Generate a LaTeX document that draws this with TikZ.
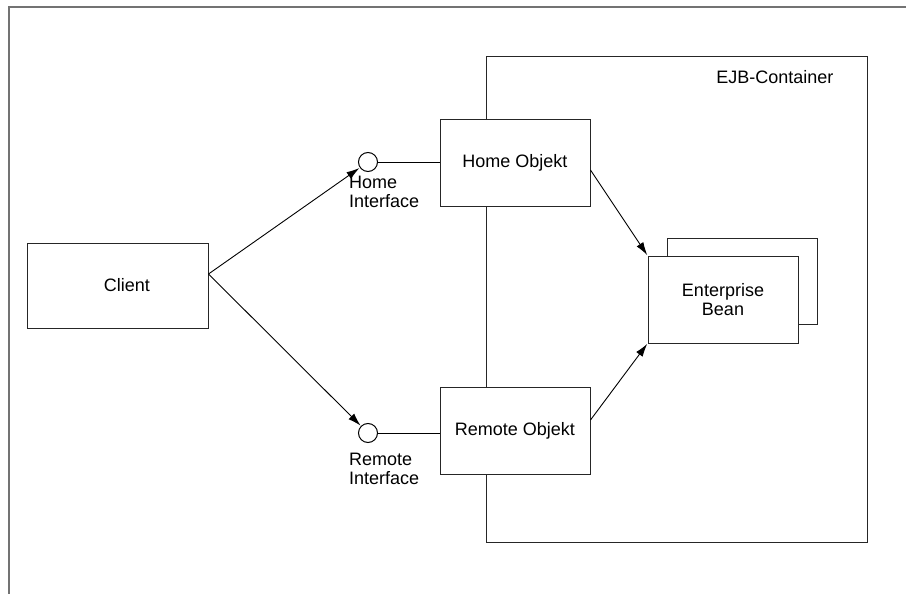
\documentclass[tikz,border=0pt]{standalone}
\usepackage{fontspec}
\setmainfont{Liberation Sans}
\usetikzlibrary{arrows.meta}
\begin{document}
\begin{tikzpicture}[x=1pt,y=-1pt,
  every node/.style={font=\fontsize{18}{19}\selectfont},
  box/.style={draw=black!85, line width=1pt, fill=white, rectangle, inner sep=0pt},
  iface/.style={draw=black, line width=1pt, fill=white, circle, inner sep=0pt, minimum size=19pt},
  conn/.style={draw=black, line width=0.9pt},
  arr/.style={conn, -{Latex[length=13pt,width=8pt]}, shorten >=0.5pt}]
\useasboundingbox (0,0) rectangle (906,594);
% frame
\draw[black!55, line width=2pt] (9,594) -- (9,7) -- (906,7);
% container
\draw[black!85, line width=1pt] (486,57) rectangle (867,542);
\node[anchor=base east] (ejb) at (837,84) {EJB-Container};
% components
\node[box, minimum width=181pt, minimum height=85pt] (client) at (117.5,285.5) {\hspace{19pt}Client};
\node[box, minimum width=150pt, minimum height=86pt] (home) at (515,163) {Home Objekt};
\node[box, minimum width=150pt, minimum height=87pt] (remote) at (515,430.5) {Remote Objekt};
\node[box, minimum width=150pt, minimum height=86pt] (beanback) at (742,281) {};
\node[box, minimum width=150pt, minimum height=87pt, align=center] (bean) at (723,299.5) {Enterprise\\Bean};
% interfaces
\node[iface] (homeif) at (368,162) {};
\node[iface] (remoteif) at (368,433) {};
\node[anchor=north west, align=left, inner sep=0pt] (homelbl) at (349,176) {Home\\Interface};
\node[anchor=north west, align=left, inner sep=0pt] (remotelbl) at (349,453) {Remote\\Interface};
% connectors
\draw[conn] (homeif) -- (homeif -| home.west);
\draw[conn] (remoteif) -- (remoteif -| remote.west);
\draw[arr] ([yshift=11.5pt]client.east) -- (homeif);
\draw[arr] ([yshift=11.5pt]client.east) -- (remoteif);
\draw[arr] ([yshift=-7pt]home.east) -- (bean.north west);
\draw[arr] ([yshift=10.5pt]remote.east) -- (bean.south west);
\end{tikzpicture}
\end{document}
